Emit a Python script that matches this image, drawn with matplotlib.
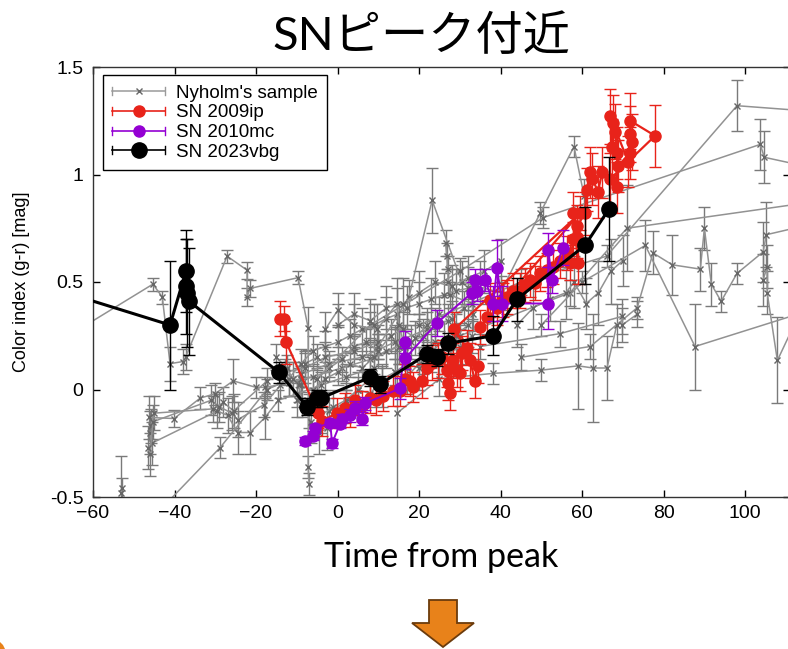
import matplotlib
matplotlib.use("Agg")
import matplotlib.pyplot as plt
from matplotlib.lines import Line2D
from matplotlib.patches import Polygon
from matplotlib.legend_handler import HandlerBase

# ---------------- data ----------------
# Nyholm's sample (several SNe), each: x (days), y (g-r), err
nyholm_x = [
    [-66, -45.3, -43.0, -41.1, -38.0, -37.3, -27.1, -22.2, -22.2, -21.5, -9.7, -7.2, -7.2, -7.0],
    [-46.3, -40.1, -33.7, -30.1, -25.6, -20.0, -17.8, -12.0, -6, 1, 8, 15],
    [-46.0, -45.6, -29.5, -27.0, -24.5, -21.5, -17.8, -14.5, -10, -4, 2, 9],
    [-45.8, -45.0, -30.5, -28.0, -25.5, -17.3, -13, -8, -3, 4, 10],
    [-46.6, -46.0, -45.3, -31, -29, -26, -24.5, -18, -14, -9],
    [-43.5, -28.8, -17.3, -9, -2, 6, 14, 22],
    [-53.1, -53.0],
    [-9, -6, -3, 0, 3, 6, 9, 12, 15, 18, 21, 24, 27],
    [-8, -5, -2, 1, 4, 7, 10, 13, 16, 19, 22, 25, 28, 31],
    [-2, 2, 5, 8, 11, 14, 17, 20, 23, 26, 30, 33],
    [10, 17.5, 23.2, 30.5, 40, 49.7, 58.0, 60.5],
    [-5, 8, 30, 50.5, 103.7, 104.7, 112],
    [20, 45, 66.0, 98.0, 112],
    [30, 57, 71.0, 112],
    [45, 62, 73.5, 77.4, 82.1, 89.0, 90.0, 91.7, 94.1, 98.0, 104.4, 105.2, 112],
    [50, 60, 75.5, 87.7, 112],
    [104.4, 105.4, 105.4, 107.9, 112],
    [14.6, 25, 38.2, 50, 59.0, 62.7, 66.1, 68.5],
    [35, 54.6, 69.8, 69.8, 73.5],
    [-12, -9, -6, -3, 0, 3, 6, 9, 12, 14.6, 17, 20, 23, 26, 29, 32, 35],
    [-10, -7, -4, -1, 2, 5, 8, 11, 14, 17, 20, 23, 26, 29, 32],
    [0, 4, 8, 12, 16, 20, 24, 28, 32, 36, 40],
    [26.5, 26.8, 27.0, 27.2, 27.5, 33, 33.3],
    [-3, 0.1, 4, 9.7, 14.6, 15, 16.5, 17, 21, 24],
    [-15, -12.5, -11, -9.5, -8.8, -6.5, -4.5, -2.5],
    [44, 48, 52, 56, 58, 61, 64, 67, 70],
]
nyholm_y = [
    [0.25, 0.49, 0.43, 0.12, 0.13, 0.15, 0.62, 0.555, 0.43, 0.47, 0.52, 0.285, -0.36, -0.44],
    [-0.13, -0.135, -0.04, -0.02, 0.04, 0.01, 0.01, 0.03, 0.06, 0.10, 0.14, 0.20],
    [-0.20, -0.25, -0.10, -0.12, -0.20, -0.20, -0.13, -0.05, -0.02, 0.02, 0.06, 0.10],
    [-0.17, -0.11, -0.09, -0.06, -0.10, 0.04, 0.08, 0.10, 0.15, 0.18, 0.22],
    [-0.27, -0.30, -0.15, -0.05, -0.08, -0.11, -0.14, -0.07, 0.02, 0.05],
    [-0.56, -0.27, 0.0, 0.07, 0.12, 0.15, 0.22, 0.28],
    [-0.48, -0.46],
    [0.02, 0.0, 0.05, 0.08, 0.12, 0.10, 0.15, 0.18, 0.20, 0.22, 0.25, 0.30, 0.32],
    [0.12, 0.15, 0.10, 0.14, 0.20, 0.22, 0.18, 0.25, 0.28, 0.24, 0.30, 0.35, 0.33, 0.38],
    [-0.10, -0.06, 0.0, -0.02, 0.05, 0.08, 0.06, 0.12, 0.18, 0.15, 0.20, 0.25],
    [0.20, 0.43, 0.88, 0.50, 0.45, 0.82, 1.13, 0.90],
    [0.05, 0.30, 0.55, 0.80, 1.14, 1.08, 1.05],
    [0.30, 0.50, 0.62, 1.32, 1.30],
    [0.25, 0.45, 0.75, 0.86],
    [0.15, 0.20, 0.38, 0.635, 0.58, 0.56, 0.75, 0.49, 0.41, 0.54, 0.64, 0.72, 0.75],
    [0.30, 0.50, 0.67, 0.20, 0.345],
    [0.51, 0.57, 0.45, 0.135, 0.30],
    [-0.11, 0.05, 0.075, 0.09, 0.11, 0.10, 0.10, 0.30],
    [0.20, 0.26, 0.34, 0.30, 0.35],
    [0.05, 0.12, 0.18, 0.20, 0.22, 0.25, 0.28, 0.30, 0.33, 0.35, 0.38, 0.40, 0.42, 0.44, 0.46, 0.47, 0.50],
    [-0.05, -0.10, -0.12, -0.08, -0.05, 0.0, 0.05, 0.02, 0.08, 0.12, 0.10, 0.18, 0.22, 0.25, 0.30],
    [0.30, 0.35, 0.32, 0.38, 0.40, 0.45, 0.50, 0.48, 0.52, 0.55, 0.60],
    [0.68, 0.62, 0.56, 0.50, 0.44, 0.40, 0.35],
    [0.28, 0.37, 0.30, 0.28, 0.40, 0.30, 0.20, 0.10, 0.15, 0.22],
    [0.15, 0.10, 0.05, 0.02, -0.05, -0.15, -0.20, -0.18],
    [0.30, 0.38, 0.42, 0.45, 0.50, 0.40, 0.45, 0.55, 0.60],
]
nyholm_e = [
    [0.05, 0.03, 0.03, 0.08, 0.06, 0.06, 0.03, 0.04, 0.04, 0.04, 0.03, 0.10, 0.05, 0.05],
    [0.10, 0.04, 0.05, 0.05, 0.10, 0.05, 0.05, 0.06, 0.06, 0.06, 0.08, 0.08],
    [0.10, 0.10, 0.08, 0.08, 0.10, 0.10, 0.10, 0.05, 0.06, 0.06, 0.06, 0.08],
    [0.08, 0.08, 0.06, 0.07, 0.08, 0.06, 0.06, 0.07, 0.07, 0.07, 0.08],
    [0.10, 0.10, 0.08, 0.07, 0.07, 0.08, 0.08, 0.06, 0.06, 0.06],
    [0.05, 0.05, 0.05, 0.06, 0.06, 0.06, 0.08, 0.08],
    [0.17, 0.05],
    [0.06, 0.06, 0.06, 0.06, 0.06, 0.06, 0.08, 0.08, 0.08, 0.08, 0.08, 0.08, 0.08],
    [0.06, 0.06, 0.06, 0.06, 0.06, 0.06, 0.08, 0.08, 0.08, 0.08, 0.08, 0.08, 0.08, 0.08],
    [0.06, 0.06, 0.06, 0.06, 0.06, 0.06, 0.08, 0.08, 0.08, 0.08, 0.08, 0.08],
    [0.06, 0.08, 0.15, 0.10, 0.08, 0.05, 0.05, 0.08],
    [0.05, 0.06, 0.06, 0.05, 0.12, 0.12, 0.10],
    [0.05, 0.06, 0.05, 0.12, 0.10],
    [0.06, 0.06, 0.20, 0.10],
    [0.06, 0.06, 0.05, 0.10, 0.14, 0.10, 0.10, 0.10, 0.05, 0.05, 0.14, 0.15, 0.10],
    [0.05, 0.05, 0.12, 0.20, 0.10],
    [0.12, 0.10, 0.10, 0.20, 0.10],
    [0.40, 0.08, 0.05, 0.05, 0.20, 0.25, 0.15, 0.10],
    [0.06, 0.06, 0.08, 0.08, 0.06],
    [0.08, 0.07, 0.07, 0.07, 0.08, 0.08, 0.10, 0.10, 0.10, 0.12, 0.10, 0.10, 0.10, 0.10, 0.10, 0.10, 0.10],
    [0.08, 0.08, 0.08, 0.08, 0.08, 0.08, 0.10, 0.10, 0.10, 0.10, 0.10, 0.10, 0.10, 0.10, 0.10],
    [0.10, 0.10, 0.10, 0.10, 0.12, 0.10, 0.10, 0.10, 0.10, 0.10, 0.10],
    [0.06, 0.06, 0.06, 0.06, 0.06, 0.08, 0.08],
    [0.08, 0.08, 0.10, 0.12, 0.12, 0.10, 0.10, 0.10, 0.08, 0.08],
    [0.06, 0.06, 0.08, 0.08, 0.08, 0.10, 0.10, 0.10],
    [0.10, 0.10, 0.10, 0.12, 0.12, 0.12, 0.15, 0.15, 0.12],
]

# SN 2009ip
sn09_x = [-14.1, -13.1, -12.6, -4.8, -3.8, -0.1, 1.8, 3.1, 4.3, 6.0, 8.0, 9.4, 11.2, 13.6,
          15.3, 16.6, 17.8, 18.5, 20.7, 22.0, 23.2, 24.7, 25.6, 26.9, 27.1, 27.6, 28.3, 29.3,
          30.1, 30.6, 31.8, 32.5, 33.7, 34.5, 28.6, 59.5, 35.0, 36.7, 37.4, 39.1, 40.6, 41.6,
          43.1, 44.8, 46.0, 47.2, 48.5, 49.7, 51.4, 52.9, 54.6, 56.3, 57.1, 57.8, 58.8, 59.0,
          57.8, 58.8, 60.7, 61.2, 62.0, 62.5, 63.9, 64.9, 66.9, 77.9, 71.8, 71.8, 72.3, 71.3,
          66.9, 67.4, 67.6, 68.1, 68.6, 68.6, 68.8, 71.8]
sn09_y = [0.33, 0.33, 0.22, -0.11, -0.145, -0.11, -0.085, -0.105, -0.05, -0.075, -0.04, -0.05,
          -0.03, -0.005, -0.005, 0.05, 0.04, 0.01, 0.04, 0.10, 0.125, 0.135, 0.15, 0.09, 0.03,
          -0.015, 0.135, 0.09, 0.075, 0.17, 0.195, 0.135, 0.04, 0.11, 0.28, 0.82, 0.29, 0.335,
          0.415, 0.38, 0.415, 0.43, 0.46, 0.46, 0.485, 0.51, 0.495, 0.54, 0.555, 0.57, 0.60,
          0.635, 0.59, 0.70, 0.71, 0.59, 0.82, 0.76, 0.82, 0.93, 1.01, 0.98, 0.92, 1.01, 0.98,
          1.18, 1.25, 1.19, 1.15, 1.06, 1.27, 1.13, 1.24, 1.20, 1.10, 0.94, 1.04, 1.10]
sn09_e = [0.08, 0.06, 0.10, 0.07, 0.07, 0.07, 0.07, 0.07, 0.07, 0.07, 0.07, 0.07, 0.07, 0.07,
          0.07, 0.07, 0.07, 0.07, 0.08, 0.08, 0.08, 0.08, 0.08, 0.08, 0.08, 0.08, 0.08, 0.08,
          0.08, 0.08, 0.08, 0.08, 0.08, 0.08, 0.08, 0.08, 0.08, 0.08, 0.08, 0.08, 0.08, 0.08,
          0.08, 0.08, 0.08, 0.08, 0.08, 0.08, 0.08, 0.08, 0.08, 0.08, 0.08, 0.08, 0.10, 0.10,
          0.10, 0.10, 0.10, 0.10, 0.12, 0.12, 0.12, 0.12, 0.12, 0.145, 0.13, 0.13, 0.13, 0.12,
          0.13, 0.13, 0.13, 0.13, 0.12, 0.12, 0.12, 0.12]

# SN 2010mc
sn10_x = [-8.0, -6.0, -5.5, -1.8, -1.35, 0.6, 1.1, 3.1, 4.3, 6.0, 6.7, 15.3, 16.6, 16.6,
          24.4, 33.0, 33.7, 34.2, 36.2, 38.2, 39.1, 40.4, 51.7, 51.7, 52.6, 55.3]
sn10_y = [-0.24, -0.215, -0.18, -0.155, -0.25, -0.16, -0.135, -0.12, -0.085, -0.135, -0.065,
          0.005, 0.22, 0.145, 0.31, 0.45, 0.51, 0.46, 0.51, 0.40, 0.565, 0.40, 0.40, 0.65, 0.51, 0.66]
sn10_e = [0.02, 0.02, 0.02, 0.02, 0.02, 0.02, 0.02, 0.03, 0.03, 0.03, 0.03, 0.05, 0.05, 0.05,
          0.06, 0.05, 0.05, 0.05, 0.05, 0.08, 0.13, 0.08, 0.12, 0.08, 0.06, 0.08]

# SN 2023vbg
sn23_x = [-70, -41.1, -37.2, -37.2, -37.0, -36.4, -14.4, -7.5, -5.0, -4.0, 8.0, 10.4,
          22.0, 24.4, 27.1, 38.2, 44.0, 60.7, 66.6]
sn23_y = [0.47, 0.30, 0.55, 0.48, 0.45, 0.41, 0.08, -0.08, -0.04, -0.04, 0.057, 0.025,
          0.165, 0.15, 0.215, 0.25, 0.42, 0.67, 0.84]
sn23_e = [0.1, 0.30, 0.19, 0.22, 0.25, 0.25, 0.05, 0.04, 0.04, 0.04, 0.04, 0.04,
          0.04, 0.04, 0.05, 0.09, 0.10, 0.18, 0.24]

labels = ["Nyholm's sample", "SN 2009ip", "SN 2010mc", "SN 2023vbg"]
xticks = [-60, -40, -20, 0, 20, 40, 60, 80, 100]
yticks = [-0.5, 0, 0.5, 1, 1.5]
yticklabels = ["-0.5", "0", "0.5", "1", "1.5"]

# ---------------- figure ----------------
W, H = 788, 649
fig = plt.figure(figsize=(W / 100, H / 100), dpi=100)
ax = fig.add_axes([93 / W, 152 / H, 697 / W, 430 / H])

GRAY_LINE = "#929292"
GRAY_MK = "#666666"
RED = "#e8231a"
PURPLE = "#9400d3"

for xs, ys, es in zip(nyholm_x, nyholm_y, nyholm_e):
    ax.errorbar(xs, ys, yerr=es, color=GRAY_LINE, ecolor="#7a7a7a", elinewidth=1.0,
                capsize=4.5, capthick=1.0, lw=1.1, marker="x", ms=4.5,
                mec=GRAY_MK, mew=1.0, zorder=2)

ax.errorbar(sn09_x, sn09_y, yerr=sn09_e, color=RED, ecolor=RED, elinewidth=1.0,
            capsize=4.5, capthick=1.0, lw=1.6, marker="o", ms=8, mec=RED, zorder=3)
ax.errorbar(sn10_x, sn10_y, yerr=sn10_e, color=PURPLE, ecolor=PURPLE, elinewidth=1.0,
            capsize=4.5, capthick=1.0, lw=1.4, marker="o", ms=8, mec=PURPLE, zorder=4)
ax.errorbar(sn23_x, sn23_y, yerr=sn23_e, color="black", ecolor="black", elinewidth=1.0,
            capsize=4.5, capthick=1.0, lw=2.2, marker="o", ms=11, mec="black", zorder=5)

ax.set_xlim(-60, 111.0)
ax.set_ylim(-0.5, 1.5)
ax.set_xticks(xticks)
ax.set_yticks(yticks)
ax.set_yticklabels(yticklabels)
ax.tick_params(direction="in", length=5, width=1.0, top=True, right=True, labelsize=14)
ax.tick_params(axis="y", pad=7)
ax.tick_params(axis="x", pad=6)
for lab in ax.get_xticklabels() + ax.get_yticklabels():
    lab.set_family("Liberation Sans")
for sp in ax.spines.values():
    sp.set_linewidth(1.0)
    sp.set_color("#333333")

ax.set_ylabel("Color index (g-r) [mag]", family="Liberation Sans", fontsize=13)
ax.yaxis.set_label_coords(-0.091, 0.5)


# gnuplot-style legend handles
class GPHandler(HandlerBase):
    def create_artists(self, legend, orig, xd, yd, w, h, fs, trans):
        x0, y0 = -xd, -yd
        yc = y0 + h / 2
        c = orig.get_color()
        arts = [
            Line2D([x0, x0 + w], [yc, yc], color=c, lw=orig.get_linewidth()),
            Line2D([x0, x0], [yc - h * 0.3, yc + h * 0.3], color=c, lw=1.0),
            Line2D([x0 + w, x0 + w], [yc - h * 0.3, yc + h * 0.3], color=c, lw=1.0),
            Line2D([x0 + w / 2], [yc], color=c, marker=orig.get_marker(),
                   ms=orig.get_markersize(), mec=orig.get_markeredgecolor(),
                   mfc=orig.get_markerfacecolor(), ls="none"),
        ]
        for a in arts:
            a.set_transform(trans)
        return arts


proxies = [
    Line2D([], [], color="#9a9a9a", lw=1.1, marker="x", ms=4.5, mec=GRAY_MK),
    Line2D([], [], color=RED, lw=1.2, marker="o", ms=8, mec=RED, mfc=RED),
    Line2D([], [], color=PURPLE, lw=1.2, marker="o", ms=8, mec=PURPLE, mfc=PURPLE),
    Line2D([], [], color="black", lw=1.2, marker="o", ms=11, mec="black", mfc="black"),
]
leg = ax.legend(proxies, labels, loc="upper left", bbox_to_anchor=(0.0144, 0.981),
                borderaxespad=0, handler_map={Line2D: GPHandler()}, fancybox=False,
                edgecolor="black", framealpha=1, handlelength=2.8, handletextpad=0.6,
                labelspacing=0.14, borderpad=0.5, prop={"family": "Liberation Sans", "size": 13.5})
leg.get_frame().set_linewidth(1.0)
leg.set_zorder(10)

# title and x label
fig.text(421 / W, 1 - 36 / H, "SNピーク付近", ha="center", va="center",
         fontsize=34, family=["Lato", "Noto Sans CJK JP"])
fig.text(441 / W, 1 - 557 / H, "Time from peak", ha="center", va="center",
         fontsize=24.5, family="Lato")

# orange down arrow
arrow_px = [(429, 600), (457, 600), (457, 623), (474, 623), (443, 647), (412, 623), (429, 623)]
arrow = Polygon([(x / W, 1 - y / H) for x, y in arrow_px], closed=True,
                transform=fig.transFigure, facecolor="#e8821a", edgecolor="#6b3b0c", lw=1.3)
fig.patches.append(arrow)
corner_px = [(0, 642), (3, 645), (5, 649), (0, 649)]
corner = Polygon([(x / W, 1 - y / H) for x, y in corner_px], closed=True,
                 transform=fig.transFigure, facecolor="#e8821a", edgecolor="none")
fig.patches.append(corner)

fig.savefig("out.png", dpi=100)
